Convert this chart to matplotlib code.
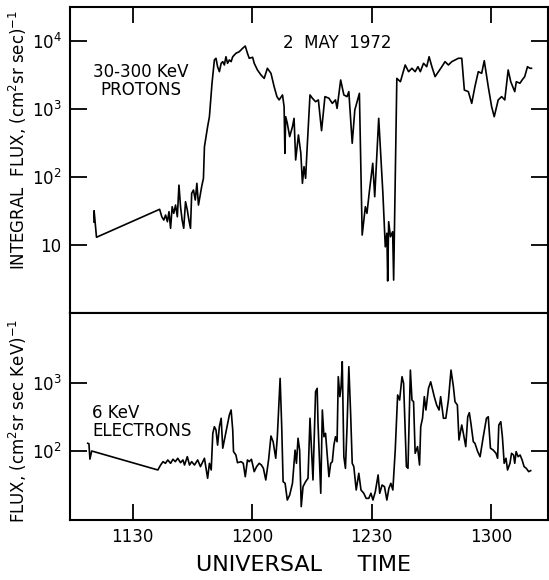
import matplotlib
matplotlib.use("Agg")
import matplotlib.pyplot as plt
from matplotlib.ticker import NullLocator

# 30-300 KeV protons: minutes after 1100 UT, integral flux
t_p = [20.25, 20.3, 20.9, 36.75, 37.3, 37.8, 38.25, 38.7, 39.1, 39.5, 39.9, 40.3,
       40.75, 41.2, 41.6, 42.0, 42.4, 42.8, 43.25, 43.7, 44.1, 44.5, 44.8, 45.25,
       45.7, 46.1, 46.5, 47.0, 47.3, 47.75, 48.0, 48.8, 49.25, 49.9, 50.5, 50.9,
       51.3, 51.75, 52.2, 52.6, 53.0, 53.4, 53.8, 54.25, 54.7, 55.1, 55.9, 56.75,
       57.6, 58.25, 58.8, 59.25, 60.1, 60.5, 61.3, 62.2, 63.0, 63.8, 64.7, 65.5,
       66.2, 66.75, 67.6, 68.0, 68.2, 68.4, 68.8, 69.4, 70.1, 70.5, 70.9, 71.6,
       72.2, 72.6, 73.0, 73.4, 73.8, 74.5, 75.1, 75.9, 76.6, 77.4, 78.25, 79.25,
       80.1, 80.9, 81.3, 82.2, 83.0, 83.8, 84.25, 85.1, 85.75, 86.9, 87.6, 88.4,
       88.8, 89.4, 90.25, 90.75, 91.75, 92.8, 93.4, 93.8, 94.0, 94.25, 94.7, 95.25,
       95.5, 96.3, 97.2, 98.4, 99.25, 100.1, 100.9, 101.6, 102.2, 103.0, 103.8,
       104.4, 105.1, 105.9, 106.75, 107.6, 108.4, 109.25, 110.1, 110.9, 111.75,
       112.6, 113.25, 114.25, 115.1, 115.9, 116.75, 117.6, 118.25, 119.25, 120.1,
       120.75, 121.75, 122.6, 123.4, 124.25, 124.9, 125.9, 126.3, 127.2, 127.75,
       128.4, 129.1, 129.7, 130.1]
flux_p = [21.8, 31.9, 13.0, 33.5, 26, 23.3, 27.6, 22, 30.9, 17.6, 36.6, 29.2,
          38.7, 26, 76, 36.6, 23.3, 17.6, 43.3, 32.7, 23.3, 17.6, 57.5, 64.4,
          45.9, 80.7, 38.7, 57.5, 71.9, 95.7, 279, 550, 771, 2388, 5260, 5570,
          4190, 3540, 4700, 4970, 4440, 5870, 4700, 5260, 4970, 5870, 6590, 6970,
          7820, 8440, 6590, 5570, 5760, 4700, 3750, 3160, 2820, 3970, 3350, 2130,
          1520, 1360, 1610, 1080, 223, 771, 616, 392, 550, 729, 178, 415,
          223, 80.7, 142, 95.7, 279, 1610, 1440, 1280, 1360, 480, 1520, 1440,
          1210, 1360, 1020, 2670, 1610, 1520, 1800, 313, 966, 1700, 14.0, 36.6,
          29.2, 60.8, 159, 51.3, 729, 57.5, 9.4, 14.9, 2.96, 22, 13.2, 15.7,
          3.05, 2820, 2520, 4440, 3540, 3970, 3540, 4190, 3540, 4700, 4190,
          5870, 4190, 2990, 3540, 4190, 4970, 4440, 4970, 5260, 5570,
          5570, 1900, 1800, 1210, 2130, 3540, 3350, 5130, 2130, 1080,
          771, 1360, 1520, 1360, 3750, 2520, 1800, 2520, 2390, 2670,
          2990, 4190, 3970, 3970]

# 6 KeV electrons: minutes after 1100 UT, flux
t_e = [18.7, 19.0, 19.25, 19.7, 36.3, 37.0, 37.6, 38.2, 38.8, 39.5, 40.1, 40.7,
       41.3, 42.0, 42.6, 43.0, 43.7, 44.25, 44.8, 45.5, 46.3, 47.0, 47.6, 48.0,
       48.8, 49.25, 49.7, 50.1, 50.5, 50.9, 51.3, 51.75, 52.2, 52.6, 53.0, 53.4,
       54.25, 54.7, 55.1, 55.3, 55.9, 56.3, 57.2, 57.75, 58.25, 58.8, 59.25, 59.8,
       60.5, 61.1, 61.75, 62.3, 62.8, 63.4, 64.1, 64.7, 65.25, 65.9, 66.3, 67.0,
       67.4, 67.75, 68.25, 68.8, 69.4, 70.1, 70.75, 71.1, 71.5, 71.9, 72.3, 72.75,
       73.4, 74.0, 74.5, 75.25, 75.9, 76.3, 76.5, 77.2, 77.6, 78.0, 78.4, 78.8,
       79.25, 79.7, 80.1, 80.5, 80.9, 81.3, 81.6, 82.0, 82.3, 82.6, 83.0, 83.4,
       83.8, 84.25, 84.7, 85.1, 85.5, 86.1, 86.75, 87.3, 88.0, 88.6, 89.25, 89.8,
       90.3, 90.9, 91.6, 92.0, 92.6, 93.2, 93.8, 94.3, 94.8, 95.3, 95.9, 96.5,
       97.0, 97.6, 98.0, 98.7, 99.1, 99.7, 100.1, 100.5, 100.9, 101.5, 102.0,
       102.3, 102.75, 103.2, 103.6, 104.25, 104.8, 105.7, 106.3, 106.9, 107.3,
       108.0, 108.6, 109.25, 109.9, 110.5, 110.9, 111.5, 111.9, 112.6, 113.0,
       113.6, 114.1, 114.5, 114.9, 115.5, 115.9, 116.6, 117.2, 118.0, 118.8,
       119.25, 119.8, 120.5, 121.2, 121.6, 121.9, 122.4, 122.8, 123.25, 123.7,
       124.1, 124.7, 125.1, 125.6, 125.9, 126.25, 126.75, 127.25, 127.75, 128.25,
       128.8, 129.4, 129.9]
flux_e = [130, 128, 76, 100, 52.6, 62.2, 69.7, 65.9, 73.8, 65.9, 75.5, 69.7,
          78.2, 67.3, 73.8, 62.2, 82.5, 62.2, 69.7, 62.2, 73.8, 58.9, 69.7, 78.2,
          39.7, 65.9, 52.6, 182, 228, 204, 122, 228, 303, 110, 145, 192,
          338, 401, 204, 98, 87.3, 67.3, 69.7, 65.9, 41.9, 73.8, 69.7, 75.5,
          49.7, 58.9, 65.9, 62.2, 55.6, 37.5, 73.8, 166, 137, 78.2, 163, 1170,
          228, 35.4, 33.5, 19, 22.5, 33.5, 103, 65.9, 154, 103, 15.2, 29.9,
          35.4, 39.7, 303, 37.5, 745, 836, 270, 23.9, 401, 162, 182, 92.5,
          41.9, 65.9, 69.7, 122, 162, 137, 1240, 630, 883, 2060, 82.5, 55.6,
          228, 1740, 358, 65.9, 58.9, 26.7, 47, 26.7, 23.9, 20.1, 20.1, 23.9,
          19, 25.2, 44.4, 23.9, 31.6, 29.9, 19, 28.2, 33.5, 26.7, 103, 667,
          562, 1240, 989, 58.9, 55.6, 1550, 562, 531, 92.5, 116, 62.2,
          228, 303, 630, 401, 836, 1040, 630, 474, 401, 630,
          303, 303, 562, 1550, 883, 531, 474, 145, 241, 182,
          116, 319, 366, 255, 137, 130, 98, 82.5, 162, 303,
          319, 110, 103, 92.5, 78.2, 241, 270, 162, 65.9, 78.2,
          52.6, 65.9, 92.5, 87.3, 65.9, 98, 82.5, 87.3, 73.8, 58.9,
          55.6, 49.7, 51.4]

xtick_min = [30, 60, 90, 120]
xtick_lbl = ["1130", "1200", "1230", "1300"]

fig = plt.figure(figsize=(5.49, 5.80), dpi=100)
ax1 = fig.add_axes([70/549, 1 - 313/580, 478/549, 306/580])
ax2 = fig.add_axes([70/549, 1 - 520/580, 478/549, 207/580])

ax1.plot(t_p, flux_p, color="black", lw=1.2)
ax2.plot(t_e, flux_e, color="black", lw=1.2)

for ax in (ax1, ax2):
    ax.set_yscale("log")
    ax.set_xlim(14.25, 134.25)
    ax.yaxis.set_minor_locator(NullLocator())
    ax.xaxis.set_minor_locator(NullLocator())
    ax.set_xticks(xtick_min)
    for s in ax.spines.values():
        s.set_linewidth(1.5)
    ax.tick_params(axis="y", direction="in", left=True, right=True,
                   length=12.5, width=1.3, pad=6, labelsize=12)

ax1.set_ylim(1, 10**4.5)
ax1.set_yticks([10, 100, 1000, 10000])
ax1.set_yticklabels(["10", "10$^2$", "10$^3$", "10$^4$"])
ax1.tick_params(axis="x", direction="in", top=True, bottom=False,
                labelbottom=False, length=11.5, width=1.3)

ax2.set_ylim(10**0.985, 10**4.03)
ax2.set_yticks([100, 1000])
ax2.set_yticklabels(["10$^2$", "10$^3$"])
ax2.set_xticklabels(xtick_lbl)
ax2.tick_params(axis="x", direction="in", top=False, bottom=True,
                length=11.5, width=1.3, pad=6, labelsize=12)

ax1.text(0.559, 0.882, "2  MAY  1972", transform=ax1.transAxes,
         ha="center", va="center", fontsize=12)
ax1.text(0.149, 0.758, "30-300 KeV\nPROTONS", transform=ax1.transAxes,
         ha="center", va="center", fontsize=12, linespacing=1.05)
ax2.text(0.046, 0.473, "6 KeV\nELECTRONS", transform=ax2.transAxes,
         ha="left", va="center", fontsize=12, linespacing=1.05)

fig.text(18/549, 1 - 140/580, "INTEGRAL  FLUX, (cm$^2$sr sec)$^{-1}$",
         rotation=90, ha="center", va="center", fontsize=12)
fig.text(18/549, 1 - 421/580, "FLUX, (cm$^2$sr sec KeV)$^{-1}$",
         rotation=90, ha="center", va="center", fontsize=12)
fig.text(304/549, 1 - 565/580, "UNIVERSAL     TIME",
         ha="center", va="center", fontsize=16)

fig.savefig("out.png", dpi=100)
